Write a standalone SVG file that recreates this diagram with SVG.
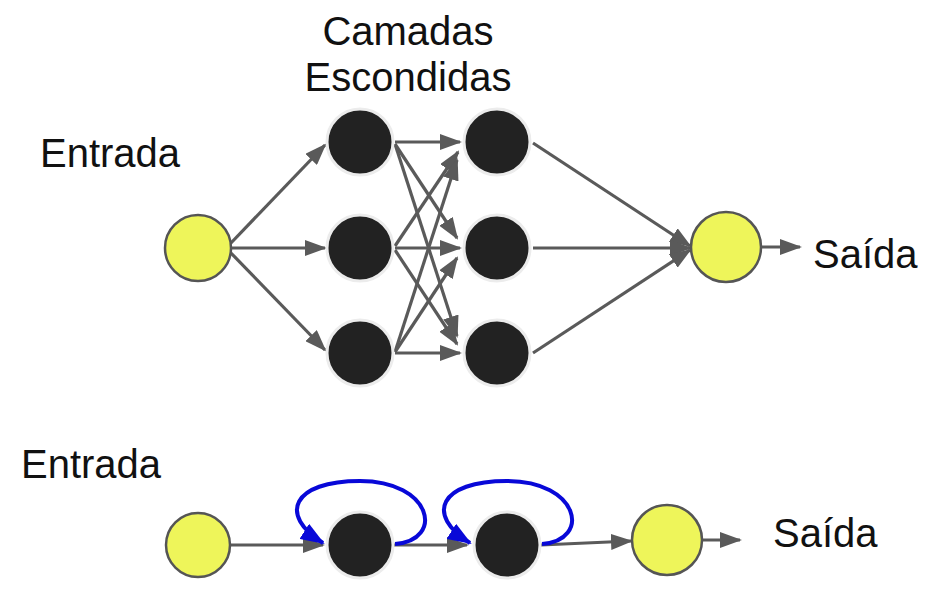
<svg xmlns="http://www.w3.org/2000/svg" width="930" height="589" viewBox="0 0 930 589">
<style>
.lbl{font-family:"Liberation Sans",Arial,sans-serif;font-size:40px;fill:#111}
.inout{fill:#eef55a;stroke:#555;stroke-width:2.5}
.hid{fill:#222;stroke:#ececec;stroke-width:3}
.e{stroke:#5a5a5a;stroke-width:3.2;fill:none;marker-end:url(#ag)}
.loop{stroke:#0808d8;stroke-width:4;fill:none;marker-end:url(#ab)}
</style>
<defs>
<marker id="ag" markerWidth="22" markerHeight="16" refX="20" refY="8" orient="auto" markerUnits="userSpaceOnUse"><path d="M0,0 L22,8 L0,16 z" fill="#5a5a5a"/></marker>
<marker id="ab" markerWidth="24" markerHeight="18" refX="22" refY="9" orient="auto" markerUnits="userSpaceOnUse"><path d="M0,0 L24,9 L0,18 z" fill="#0808d8"/></marker>
</defs>
<rect width="930" height="589" fill="#fff"/>
<g id="labels">
<text class="lbl" x="408" y="45" text-anchor="middle">Camadas</text>
<text class="lbl" x="408" y="91" text-anchor="middle">Escondidas</text>
<text class="lbl" x="40" y="167">Entrada</text>
<text class="lbl" x="813" y="268">Saída</text>
<text class="lbl" x="21" y="478">Entrada</text>
<text class="lbl" x="773" y="547">Saída</text>
</g>
<g id="connectors">
<line class="e" x1="230" y1="244" x2="325" y2="145"/>
<line class="e" x1="232" y1="248" x2="325" y2="248"/>
<line class="e" x1="230" y1="252" x2="325" y2="350"/>
<line class="e" x1="395" y1="142" x2="460" y2="142"/>
<line class="e" x1="395" y1="144" x2="457" y2="238"/>
<line class="e" x1="395" y1="144" x2="457" y2="336"/>
<line class="e" x1="395" y1="246" x2="458" y2="152"/>
<line class="e" x1="395" y1="248" x2="460" y2="248"/>
<line class="e" x1="395" y1="250" x2="457" y2="344"/>
<line class="e" x1="395" y1="352" x2="457" y2="160"/>
<line class="e" x1="395" y1="352" x2="457" y2="258"/>
<line class="e" x1="395" y1="353" x2="460" y2="353"/>
<line class="e" x1="533" y1="143" x2="690" y2="246"/>
<line class="e" x1="533" y1="248" x2="690" y2="248"/>
<line class="e" x1="533" y1="353" x2="690" y2="250"/>
<line class="e" x1="762" y1="247" x2="800" y2="247"/>
<line class="e" x1="231" y1="545" x2="323" y2="545"/>
<line class="e" x1="394" y1="545" x2="467" y2="545"/>
<line class="e" x1="541" y1="545" x2="631" y2="541"/>
<line class="e" x1="702" y1="540" x2="740" y2="540"/>
<path class="loop" d="M395 544 C445 540 432 481 360 481 C292 481 278 515 323 543"/>
<path class="loop" d="M542 544 C592 540 579 481 507 481 C439 481 425 515 470 543"/>
</g>
<g id="in1"><circle class="inout" cx="198" cy="248" r="33"/></g>
<g id="h11"><circle class="hid" cx="360" cy="142" r="33"/></g>
<g id="h12"><circle class="hid" cx="360" cy="248" r="33"/></g>
<g id="h13"><circle class="hid" cx="360" cy="353" r="33"/></g>
<g id="h21"><circle class="hid" cx="497" cy="142" r="33"/></g>
<g id="h22"><circle class="hid" cx="497" cy="248" r="33"/></g>
<g id="h23"><circle class="hid" cx="497" cy="353" r="33"/></g>
<g id="out1"><circle class="inout" cx="726" cy="247" r="35"/></g>
<g id="in2"><circle class="inout" cx="198" cy="545" r="32"/></g>
<g id="r1"><circle class="hid" cx="360" cy="545" r="33"/></g>
<g id="r2"><circle class="hid" cx="507" cy="545" r="33"/></g>
<g id="out2"><circle class="inout" cx="667" cy="540" r="35"/></g>
</svg>
